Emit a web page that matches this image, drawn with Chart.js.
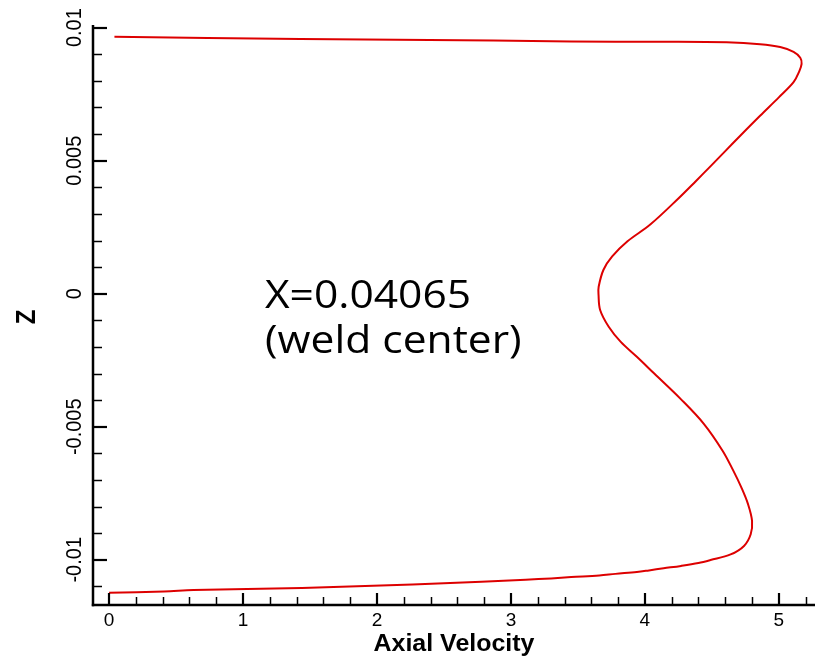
<!DOCTYPE html>
<html>
<head>
<meta charset="utf-8">
<script src="https://cdn.jsdelivr.net/npm/chart.js@4.4.1/dist/chart.umd.min.js"></script>
<style>
  html, body { margin: 0; padding: 0; background: #fff; }
  canvas { display: block; }
</style>
</head>
<body>
<canvas id="profile" width="815" height="661"></canvas>
<script>
// axial velocity profile across Z at the weld centre (X=0.04065)
const velocity = [0.04, 1.43, 2.87, 3.45, 4.11, 4.61, 4.86, 5.01, 5.11, 5.16,
  5.17, 5.15, 5.11, 5.00, 4.86, 4.71, 4.60, 4.48, 4.38, 4.25,
  4.04, 3.87, 3.756, 3.691, 3.655, 3.654, 3.666, 3.73, 3.82, 3.94,
  4.07, 4.27, 4.44, 4.58, 4.66, 4.72, 4.77, 4.80, 4.79, 4.74,
  4.64, 4.49, 4.40, 4.27, 4.14, 4.03, 3.94, 3.78, 3.66, 3.45,
  3.30, 3.11, 2.78, 2.50, 2.03, 1.44, 1.03, 0.63, 0.41, 0.0];
const zPos = [0.00966, 0.00957, 0.00952, 0.00948, 0.00947, 0.00945, 0.00938, 0.00927, 0.00909, 0.00887,
  0.00864, 0.00833, 0.00795, 0.00738, 0.00669, 0.00593, 0.00536, 0.00474, 0.00423, 0.00358,
  0.00260, 0.00197, 0.00140, 0.00090, 0.00026, -0.00004, -0.00061, -0.00124, -0.00181, -0.00237,
  -0.00300, -0.00397, -0.00489, -0.00590, -0.00665, -0.00728, -0.00791, -0.00854, -0.00904, -0.00948,
  -0.00980, -0.01001, -0.01012, -0.01023, -0.01032, -0.01040, -0.01046, -0.01053, -0.01059, -0.01065,
  -0.01070, -0.01075, -0.01083, -0.01088, -0.01097, -0.01106, -0.01110, -0.01114, -0.01119, -0.01124];

const xTicks = [0, 1, 2, 3, 4, 5];
const xTickLabels = ['0', '1', '2', '3', '4', '5'];
const yTicks = [0.01, 0.005, 0, -0.005, -0.01];
const yTickLabels = ['0.01', '0.005', '0', '-0.005', '-0.01'];
const xTitle = 'Axial Velocity';
const yTitle = 'Z';
const noteLines = ['X=0.04065', '(weld center)'];

const X_MIN = -0.12, X_MAX = 5.27;
const Y_MIN = -0.0117, Y_MAX = 0.0101;

// minor ticks: 5 per major interval
const xMinor = [], yMinor = [];
for (let i = -1; i <= 27; i++) { const v = i * 0.2; if (v > X_MIN && v < X_MAX && i % 5) xMinor.push(v); }
for (let i = -12; i <= 10; i++) { const v = i * 0.001; if (v > Y_MIN && v < Y_MAX && i % 5) yMinor.push(v); }

function seg(ctx, x1, y1, x2, y2) {
  ctx.beginPath(); ctx.moveTo(x1, y1); ctx.lineTo(x2, y2); ctx.stroke();
}

function stretchText(ctx, text, x, y, sx, sy) {
  ctx.save();
  ctx.translate(x, y);
  ctx.scale(sx, sy);
  ctx.fillText(text, 0, 0);
  ctx.restore();
}

// Tecplot-style frame: inward ticks, rotated Z labels, note text
const axisDecor = {
  id: 'axisDecor',
  afterDraw(chart) {
    const { ctx, chartArea: a, scales: { x, y } } = chart;
    ctx.save();
    ctx.strokeStyle = '#000';
    ctx.fillStyle = '#000';

    ctx.lineWidth = 1.5;
    xMinor.forEach(v => { const p = Math.round(x.getPixelForValue(v)) + 0.5; seg(ctx, p, a.bottom, p, a.bottom - 8); });
    yMinor.forEach(v => { const p = Math.round(y.getPixelForValue(v)) + 0.5; seg(ctx, a.left, p, a.left + 9, p); });
    ctx.lineWidth = 2.2;
    xTicks.forEach(v => { const p = Math.round(x.getPixelForValue(v)); seg(ctx, p, a.bottom, p, a.bottom - 12); });
    yTicks.forEach(v => { const p = Math.round(y.getPixelForValue(v)); seg(ctx, a.left, p, a.left + 14, p); });

    ctx.lineWidth = 2.5;
    seg(ctx, a.left, a.top, a.left, a.bottom + 1.2);
    seg(ctx, a.left - 1.2, a.bottom, a.right, a.bottom);

    ctx.font = '19px "Liberation Sans", Arial, sans-serif';
    ctx.textAlign = 'center';
    ctx.textBaseline = 'middle';
    xTicks.forEach((v, i) => stretchText(ctx, xTickLabels[i], x.getPixelForValue(v), a.bottom + 16, 1, 1));

    ctx.font = '20px "Liberation Sans", Arial, sans-serif';
    yTicks.forEach((v, i) => {
      ctx.save();
      ctx.translate(a.left - 18, y.getPixelForValue(v));
      ctx.rotate(-Math.PI / 2);
      ctx.scale(1, 1.12);
      ctx.fillText(yTickLabels[i], 0, 0);
      ctx.restore();
    });

    ctx.font = 'bold 24px "Liberation Sans", Arial, sans-serif';
    ctx.textBaseline = 'alphabetic';
    stretchText(ctx, xTitle, (a.left + a.right) / 2, 651, 1.04, 1);

    ctx.save();
    ctx.textBaseline = 'middle';
    ctx.translate(27, (a.top + a.bottom) / 2 + 2);
    ctx.rotate(-Math.PI / 2);
    ctx.scale(1, 1.15);
    ctx.fillText(yTitle, 0, 0);
    ctx.restore();

    ctx.font = '38px "Open Sans", "Noto Sans", sans-serif';
    ctx.textAlign = 'left';
    stretchText(ctx, noteLines[0], 265, 308, 1.12, 1);
    stretchText(ctx, noteLines[1], 265, 353, 1.12, 1);
    ctx.restore();
  }
};

new Chart(document.getElementById('profile'), {
  type: 'scatter',
  data: {
    datasets: [{
      data: velocity.map((v, i) => ({ x: v, y: zPos[i] })),
      showLine: true,
      borderColor: '#dd0000',
      borderWidth: 2,
      pointRadius: 0,
      tension: 0.35,
      fill: false,
    }],
  },
  options: {
    responsive: false,
    animation: false,
    layout: { padding: { top: 25, right: 0, left: 0, bottom: 0 } },
    plugins: { legend: { display: false }, tooltip: { enabled: false } },
    scales: {
      x: {
        type: 'linear', min: X_MIN, max: X_MAX,
        grid: { display: false }, border: { display: false },
        ticks: { display: false },
        afterFit: s => { s.height = 56; },
      },
      y: {
        type: 'linear', min: Y_MIN, max: Y_MAX,
        grid: { display: false }, border: { display: false },
        ticks: { display: false },
        afterFit: s => { s.width = 93; },
      },
    },
  },
  plugins: [axisDecor],
});
</script>
</body>
</html>
